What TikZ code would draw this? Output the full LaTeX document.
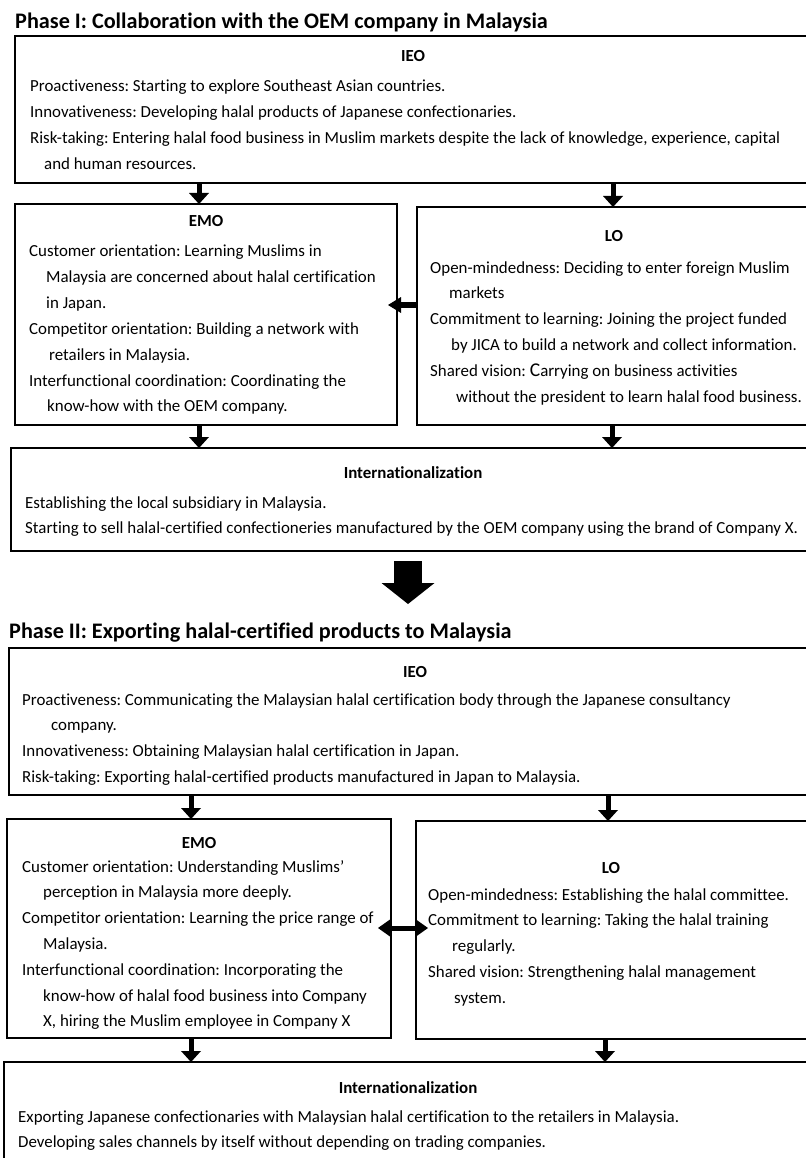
\documentclass[tikz,border=0pt]{standalone}
\usepackage{fontspec}
\setmainfont{Carlito}[Ligatures=NoCommon]
\usetikzlibrary{arrows.meta}
\newcommand{\bodyfont}{\fontsize{16.9}{25.8}\selectfont}
\frenchspacing
\begin{document}
\frenchspacing
\begin{tikzpicture}[x=1pt,y=-1pt,
  box/.style={draw, line width=1.5pt, anchor=north west, inner sep=0pt, outer sep=0pt},
  head/.style={anchor=base, inner sep=0pt, font=\bodyfont\bfseries},
  body/.style={anchor=base west, inner sep=0pt, font=\bodyfont},
  ptitle/.style={anchor=base west, inner sep=0pt, font=\fontsize{22.2}{26}\selectfont\bfseries},
  arr/.style={line width=5pt, -{Triangle[width=20pt,length=11pt,line width=0pt]}},
  larr/.style={line width=6pt, -{Triangle[width=16pt,length=13pt,line width=0pt]}},
  darr/.style={line width=5pt, {Triangle[width=17pt,length=12pt,line width=0pt]}-{Triangle[width=17pt,length=12pt,line width=0pt]}},
  bigarr/.style={line width=28pt, -{Triangle[width=53pt,length=21pt,line width=0pt]}}
]
\useasboundingbox (0,0) rectangle (805,1158);

% ---------------- Phase I ----------------
\node[ptitle] (t1) at (15,29) {Phase I: Collaboration with the OEM company in Malaysia};

\node[box, minimum width=797pt, minimum height=147pt] (ieo1) at (15,36) {};
\node[head] (ieo1h) at (413,62) {IEO};
\node[body] (ieo1t) at (30,92) {\parbox[t]{790pt}{\bodyfont
Proactiveness: Starting to explore Southeast Asian countries.\\
Innovativeness: Developing halal products of Japanese confectionaries.\\
Risk-taking: Entering halal food business in Muslim markets despite the lack of knowledge, experience, capital\\
\hspace*{14pt}and human resources.}};

\node[box, minimum width=382pt, minimum height=221pt] (emo1) at (15,204) {};
\node[head] (emo1h) at (206,226) {EMO};
\node[body] (emo1t) at (29,257) {\parbox[t]{380pt}{\bodyfont
Customer orientation: Learning Muslims in\\
\hspace*{17pt}Malaysia are concerned about halal certification\\
\hspace*{17pt}in Japan.\\
Competitor orientation: Building a network with\\
\hspace*{20pt}retailers in Malaysia.\\
Interfunctional coordination: Coordinating the\\
\hspace*{18pt}know-how with the OEM company.}};

\node[box, minimum width=395pt, minimum height=218pt] (lo1) at (417,207) {};
\node[head] (lo1h) at (614,242) {LO};
\node[body] (lo1t) at (430,273) {\parbox[t]{390pt}{\bodyfont
Open-mindedness: Deciding to enter foreign Muslim\\
\hspace*{19pt}markets\\
Commitment to learning: Joining the project funded\\
\hspace*{21pt}by JICA to build a network and collect information.\\
Shared vision: {\fontsize{19.5}{25.8}\selectfont C}arrying on business activities\\
\hspace*{26pt}without the president to learn halal food business.}};

\node[box, minimum width=801pt, minimum height=103pt] (int1) at (11,448) {};
\node[head] (int1h) at (413,478) {Internationalization};
\node[body] (int1t) at (25,508) {\parbox[t]{790pt}{\bodyfont
Establishing the local subsidiary in Malaysia.\\
Starting to sell halal-certified confectioneries manufactured by the OEM company using the brand of Company X.}};

\coordinate (c1) at (199,0);
\coordinate (c2) at (613,0);
\coordinate (c3) at (612,0);
\coordinate (m1) at (0,305);
\draw[arr] (c1 |- ieo1.south) -- (c1 |- emo1.north);
\draw[arr] (c2 |- ieo1.south) -- (c2 |- lo1.north);
\draw[larr] (m1 -| lo1.west) -- ([xshift=-9pt]m1 -| emo1.east);
\draw[arr] (c1 |- emo1.south) -- (c1 |- int1.north);
\draw[arr] (c3 |- lo1.south) -- (c3 |- int1.north);

\coordinate (b1) at (408,561);
\coordinate (b2) at (408,604);
\draw[bigarr] (b1) -- (b2);

% ---------------- Phase II ----------------
\node[ptitle] (t2) at (9,638) {Phase II: Exporting halal-certified products to Malaysia};

\node[box, minimum width=803pt, minimum height=147pt] (ieo2) at (9,648) {};
\node[head] (ieo2h) at (415,677) {IEO};
\node[body] (ieo2t) at (22,705) {\parbox[t]{790pt}{\bodyfont
Proactiveness: Communicating the Malaysian halal certification body through the Japanese consultancy\\
\hspace*{29pt}company.\\
Innovativeness: Obtaining Malaysian halal certification in Japan.\\
Risk-taking: Exporting halal-certified products manufactured in Japan to Malaysia.}};

\node[box, minimum width=384pt, minimum height=219pt] (emo2) at (7,819) {};
\node[head] (emo2h) at (199,848) {EMO};
\node[body] (emo2t) at (22,872) {\parbox[t]{380pt}{\bodyfont
Customer orientation: Understanding Muslims’\\
\hspace*{21pt}perception in Malaysia more deeply.\\
Competitor orientation: Learning the price range of\\
\hspace*{21pt}Malaysia.\\
Interfunctional coordination: Incorporating the\\
\hspace*{21pt}know-how of halal food business into Company\\
\hspace*{21pt}X, hiring the Muslim employee in Company X}};

\node[box, minimum width=396pt, minimum height=218pt] (lo2) at (416,821) {};
\node[head] (lo2h) at (611,873) {LO};
\node[body] (lo2t) at (428,900) {\parbox[t]{380pt}{\bodyfont
Open-mindedness: Establishing the halal committee.\\
Commitment to learning: Taking the halal training\\
\hspace*{24pt}regularly.\\
Shared vision: Strengthening halal management\\
\hspace*{26pt}system.}};

\node[box, minimum width=808pt, minimum height=113pt] (int2) at (4,1062) {};
\node[head] (int2h) at (408,1093) {Internationalization};
\node[body] (int2t) at (18,1122) {\parbox[t]{790pt}{\bodyfont
Exporting Japanese confectionaries with Malaysian halal certification to the retailers in Malaysia.\\
Developing sales channels by itself without depending on trading companies.}};

\coordinate (d1) at (191,0);
\coordinate (d2) at (608,0);
\coordinate (d3) at (605,0);
\coordinate (m2) at (0,928);
\draw[arr] (d1 |- ieo2.south) -- (d1 |- emo2.north);
\draw[arr] (d2 |- ieo2.south) -- (d2 |- lo2.north);
\draw[darr] ([xshift=-13pt]m2 -| emo2.east) -- ([xshift=12pt]m2 -| lo2.west);
\draw[arr] (d1 |- emo2.south) -- (d1 |- int2.north);
\draw[arr] (d3 |- lo2.south) -- (d3 |- int2.north);
\end{tikzpicture}
\end{document}
